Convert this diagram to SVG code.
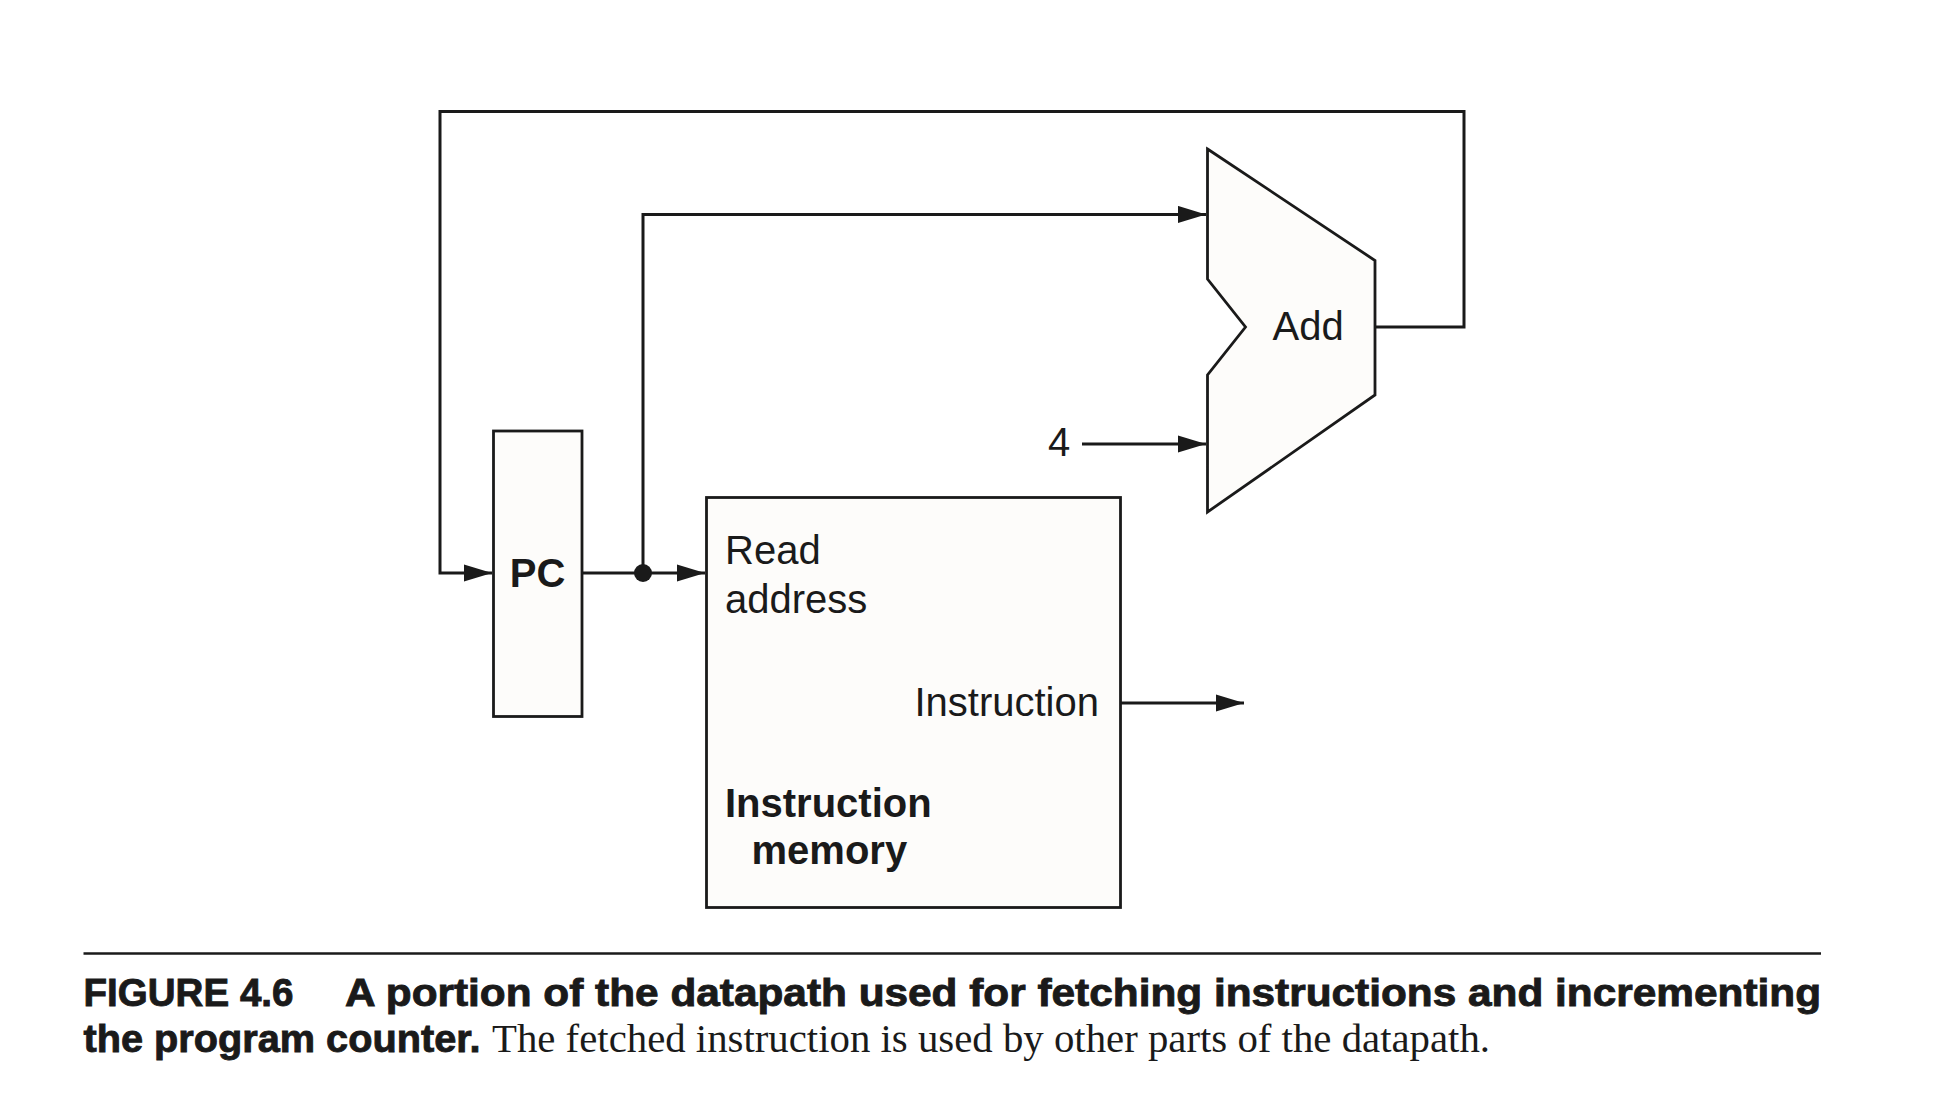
<svg xmlns="http://www.w3.org/2000/svg" width="1954" height="1097" viewBox="0 0 1954 1097">
<style>
.wire{fill:none;stroke:#1a1a1a;stroke-width:3;stroke-linejoin:miter}
.box{fill:#fdfcfa;stroke:#1a1a1a;stroke-width:2.8}
.lbl{font-family:"Liberation Sans",Arial,sans-serif;font-size:40px;fill:#1a1a1a}
.b{font-weight:bold}
.cap{font-family:"Liberation Sans",Arial,sans-serif;font-weight:bold;font-size:39px;fill:#1a1a1a;stroke:#1a1a1a;stroke-width:0.9}
.capr{font-family:"Liberation Serif","Times New Roman",serif;font-size:40px;fill:#1a1a1a}
</style>
<defs>
<marker id="arr" markerUnits="userSpaceOnUse" markerWidth="28" markerHeight="18" viewBox="0 0 26 16" refX="26" refY="8" orient="auto">
<path d="M0,0 L26,8 L0,16 Z" fill="#1a1a1a"/>
</marker>
</defs>
<rect width="1954" height="1097" fill="#ffffff"/>
<g id="connectors">
<path class="wire" d="M1375,327 H1464 V111.5 H440 V573 H492" marker-end="url(#arr)"/>
<path class="wire" d="M582,573 H705" marker-end="url(#arr)"/>
<path class="wire" d="M643,573 V214.5 H1206" marker-end="url(#arr)"/>
<path class="wire" d="M1082,444 H1206" marker-end="url(#arr)"/>
<path class="wire" d="M1120,703 H1244" marker-end="url(#arr)"/>
<circle cx="643" cy="573" r="9" fill="#1a1a1a"/>
</g>
<g id="pc">
<rect class="box" x="493.5" y="431" width="88.5" height="285.5"/>
<text class="lbl b" x="537.5" y="587" text-anchor="middle" font-size="39">PC</text>
</g>
<g id="instruction-memory">
<rect class="box" x="706.5" y="497.5" width="414" height="410"/>
<text class="lbl" x="725" y="564">Read</text>
<text class="lbl" x="725" y="613">address</text>
<text class="lbl" x="1099" y="716" text-anchor="end">Instruction</text>
<text class="lbl b" x="725" y="817">Instruction</text>
<text class="lbl b" x="751.5" y="864">memory</text>
</g>
<g id="adder">
<polygon class="box" points="1207.5,149 1375,260.5 1375,395 1207.5,512 1207.5,375 1245.5,327 1207.5,279"/>
<text class="lbl" x="1272.5" y="340">Add</text>
</g>
<g id="const4">
<text class="lbl" x="1048" y="456">4</text>
</g>
<g id="caption">
<line x1="83.5" y1="953.5" x2="1821" y2="953.5" stroke="#1a1a1a" stroke-width="2.5"/>
<text class="cap" x="83.5" y="1006" textLength="210" lengthAdjust="spacingAndGlyphs">FIGURE 4.6</text>
<text class="cap" x="345" y="1006" textLength="1476" lengthAdjust="spacingAndGlyphs">A portion of the datapath used for fetching instructions and incrementing</text>
<text class="cap" x="83.5" y="1052" textLength="397" lengthAdjust="spacingAndGlyphs">the program counter.</text>
<text class="capr" x="492" y="1052" textLength="998" lengthAdjust="spacingAndGlyphs">The fetched instruction is used by other parts of the datapath.</text>
</g>
</svg>
